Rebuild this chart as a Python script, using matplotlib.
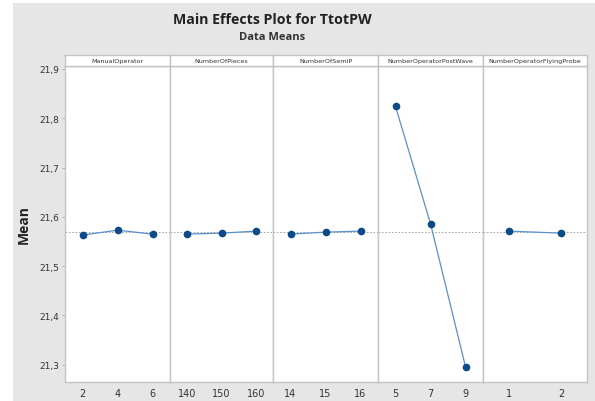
import numpy as np
import matplotlib.pyplot as plt
from matplotlib.patches import Rectangle

factors = ['ManualOperator', 'NumberOfPieces', 'NumberOfSemiP',
           'NumberOperatorPostWave', 'NumberOperatorFlyingProbe']
levels = [['2', '4', '6'], ['140', '150', '160'], ['14', '15', '16'],
          ['5', '7', '9'], ['1', '2']]
means = [[21.563, 21.573, 21.565],
         [21.565, 21.567, 21.571],
         [21.565, 21.569, 21.571],
         [21.824, 21.586, 21.296],
         [21.571, 21.567]]
grand_mean = 21.569
yticks = [21.3, 21.4, 21.5, 21.6, 21.7, 21.8, 21.9]

W, H = 595, 402
fig = plt.figure(figsize=(W / 100, H / 100), dpi=100)
fig.patch.set_facecolor('white')
fig.patches.append(Rectangle((13 / W, 0), 1 - 13 / W, 1 - 4 / H,
                             transform=fig.transFigure, facecolor='#e6e6e6',
                             edgecolor='none', zorder=-10))

fig.text(272 / W, 1 - 20 / H, 'Main Effects Plot for TtotPW', ha='center', va='center',
         fontsize=10.2, fontweight='bold', color='#222222', family='Open Sans')
fig.text(272 / W, 1 - 38 / H, 'Data Means', ha='center', va='center',
         fontsize=8, fontweight='bold', color='#333333', family='Open Sans')

edges = [65, 170, 273, 378, 483, 587]
bottom, top, strip_top = 383, 67, 56
border = '#c4c4c4'
for i, name in enumerate(factors):
    x0, x1 = edges[i], edges[i + 1]
    ax = fig.add_axes([x0 / W, 1 - bottom / H, (x1 - x0) / W, (bottom - top) / H])
    n = len(levels[i])
    xs = np.arange(n)
    ax.axhline(grand_mean, color='#9a9a9a', lw=0.6, ls=(0, (2, 2)), zorder=1)
    ax.plot(xs, means[i], color='#5a8fcc', lw=0.9, zorder=2)
    ax.plot(xs, means[i], 'o', color='#0d4a8a', ms=4.5, zorder=3)
    ax.set_xlim(-0.5, n - 0.5)
    ax.set_ylim(21.265, 21.906)
    ax.set_xticks(xs)
    ax.set_xticklabels(levels[i])
    ax.tick_params(axis='x', length=0, labelsize=7, colors='#333333', pad=4)
    ax.set_yticks(yticks)
    if i == 0:
        ax.set_yticklabels([f'{v:.1f}'.replace('.', ',') for v in yticks])
        ax.tick_params(axis='y', length=2, width=0.6, color='#aaaaaa',
                       labelsize=6.5, labelcolor='#333333', pad=2)
        ax.set_ylabel('Mean', fontsize=10, fontweight='bold', color='#222222',
                      family='Open Sans', labelpad=6)
    else:
        ax.tick_params(axis='y', length=0, labelleft=False)
    for s in ax.spines.values():
        s.set_color(border)
        s.set_linewidth(1.0)
    # strip
    sx = fig.add_axes([x0 / W, 1 - top / H, (x1 - x0) / W, (top - strip_top) / H])
    sx.set_xticks([])
    sx.set_yticks([])
    sx.set_facecolor('white')
    for s in sx.spines.values():
        s.set_color(border)
        s.set_linewidth(1.0)
    sx.text(0.5, 0.5, name, ha='center', va='center', fontsize=4.6,
            color='#333333', transform=sx.transAxes)

fig.savefig('out.png', dpi=100)
